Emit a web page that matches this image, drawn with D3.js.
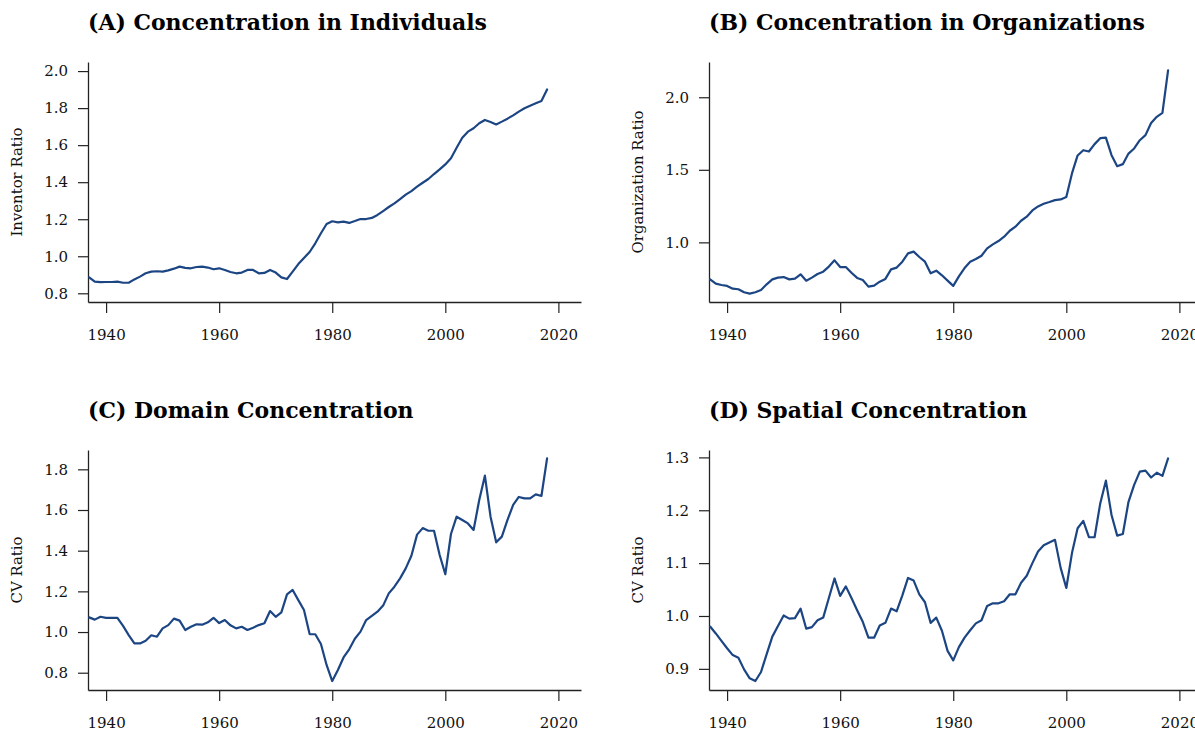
<!DOCTYPE html>
<html>
<head>
<meta charset="utf-8">
<script src="https://cdn.jsdelivr.net/npm/d3@7"></script>
<style>
  body { margin: 0; background: #fff; }
  svg { display: block; }
  .tick text { font-family: "DejaVu Serif", serif; }
</style>
</head>
<body>
<svg id="chart" width="1195" height="731"></svg>
<script>
// Yearly observations, 1937–2018
const years = d3.range(1937, 2019);

const inventorRatio = [
  0.886, 0.863, 0.860, 0.861, 0.861, 0.863, 0.857, 0.857, 0.875, 0.890,
  0.908, 0.917, 0.919, 0.917, 0.924, 0.933, 0.944, 0.937, 0.935, 0.942,
  0.944, 0.939, 0.930, 0.935, 0.926, 0.915, 0.908, 0.912, 0.926, 0.926,
  0.908, 0.910, 0.926, 0.912, 0.886, 0.877, 0.917, 0.958, 0.991, 1.023,
  1.070, 1.124, 1.174, 1.189, 1.183, 1.187, 1.180, 1.190, 1.201, 1.201,
  1.207, 1.223, 1.244, 1.266, 1.286, 1.309, 1.333, 1.352, 1.376, 1.397,
  1.417, 1.444, 1.469, 1.496, 1.529, 1.586, 1.640, 1.673, 1.691, 1.718,
  1.736, 1.725, 1.712, 1.727, 1.743, 1.761, 1.781, 1.799, 1.813, 1.826,
  1.838, 1.901
];

const organizationRatio = [
  0.745, 0.716, 0.706, 0.700, 0.681, 0.677, 0.656, 0.647, 0.656, 0.672,
  0.711, 0.745, 0.757, 0.761, 0.745, 0.750, 0.780, 0.736, 0.757, 0.782,
  0.798, 0.833, 0.876, 0.830, 0.830, 0.791, 0.755, 0.741, 0.695, 0.702,
  0.729, 0.748, 0.814, 0.826, 0.867, 0.924, 0.936, 0.899, 0.867, 0.787,
  0.805, 0.773, 0.736, 0.700, 0.766, 0.823, 0.867, 0.885, 0.908, 0.959,
  0.986, 1.009, 1.039, 1.080, 1.108, 1.149, 1.177, 1.220, 1.248, 1.266,
  1.278, 1.291, 1.296, 1.312, 1.475, 1.599, 1.635, 1.626, 1.677, 1.718,
  1.722, 1.601, 1.525, 1.539, 1.612, 1.647, 1.704, 1.739, 1.823, 1.865,
  1.892, 2.186
];

const domainCV = [
  1.072, 1.061, 1.075, 1.070, 1.070, 1.070, 1.030, 0.985, 0.944, 0.944,
  0.957, 0.984, 0.977, 1.018, 1.034, 1.066, 1.056, 1.010, 1.026, 1.038,
  1.036, 1.048, 1.070, 1.044, 1.059, 1.033, 1.018, 1.026, 1.010, 1.021,
  1.034, 1.043, 1.103, 1.075, 1.097, 1.185, 1.207, 1.157, 1.108, 0.990,
  0.989, 0.941, 0.838, 0.759, 0.813, 0.875, 0.915, 0.967, 1.002, 1.059,
  1.079, 1.100, 1.130, 1.190, 1.223, 1.264, 1.313, 1.375, 1.479, 1.511,
  1.498, 1.498, 1.379, 1.284, 1.482, 1.567, 1.551, 1.534, 1.502, 1.649,
  1.769, 1.567, 1.441, 1.469, 1.551, 1.625, 1.664, 1.657, 1.657, 1.677,
  1.669, 1.854
];

const spatialCV = [
  0.980, 0.967, 0.953, 0.939, 0.926, 0.921, 0.899, 0.882, 0.877, 0.894,
  0.928, 0.961, 0.981, 1.001, 0.995, 0.996, 1.014, 0.976, 0.979, 0.992,
  0.997, 1.034, 1.071, 1.038, 1.056, 1.034, 1.011, 0.989, 0.959, 0.959,
  0.982, 0.987, 1.014, 1.009, 1.039, 1.072, 1.067, 1.041, 1.026, 0.987,
  0.997, 0.972, 0.934, 0.916, 0.941, 0.959, 0.973, 0.986, 0.992, 1.019,
  1.024, 1.024, 1.028, 1.041, 1.041, 1.063, 1.076, 1.100, 1.122, 1.134,
  1.139, 1.144, 1.091, 1.053, 1.119, 1.166, 1.180, 1.149, 1.149, 1.213,
  1.256, 1.191, 1.152, 1.155, 1.216, 1.248, 1.273, 1.275, 1.262, 1.271,
  1.265, 1.298
];

const titles = [
  "(A) Concentration in Individuals",
  "(B) Concentration in Organizations",
  "(C) Domain Concentration",
  "(D) Spatial Concentration"
];
const yLabels = ["Inventor Ratio", "Organization Ratio", "CV Ratio", "CV Ratio"];
const xTicks = [1940, 1960, 1980, 2000, 2020];
const yTicksA = [0.8, 1.0, 1.2, 1.4, 1.6, 1.8, 2.0];
const yTicksB = [1.0, 1.5, 2.0];
const yTicksC = [0.8, 1.0, 1.2, 1.4, 1.6, 1.8];
const yTicksD = [0.9, 1.0, 1.1, 1.2, 1.3];

// Panel geometry and axis extents
const lineColor = "#1c4584";
const axisColor = "#222";
const serif = "'DejaVu Serif', serif";

const panels = [
  { values: inventorRatio,     yTicks: yTicksA, yDomain: [0.753, 2.049], left: 88,  top: 62,  bottom: 302, titleY: 30 },
  { values: organizationRatio, yTicks: yTicksB, yDomain: [0.589, 2.243], left: 709, top: 62,  bottom: 302, titleY: 30 },
  { values: domainCV,          yTicks: yTicksC, yDomain: [0.715, 1.895], left: 88,  top: 450, bottom: 690, titleY: 418 },
  { values: spatialCV,         yTicks: yTicksD, yDomain: [0.860, 1.314], left: 709, top: 450, bottom: 690, titleY: 418 }
];
const plotWidth = 493;
const xDomain = [1936.8, 2024.0];

const svg = d3.select("#chart");

// Fit the shared title size so the first title spans its intended width
const probe = svg.append("text")
  .attr("font-family", serif).attr("font-weight", "bold").attr("font-size", 24)
  .text(titles[0]);
const titleSize = 24 * 399 / probe.node().getComputedTextLength();
probe.remove();

const probe2 = svg.append("text")
  .attr("font-family", serif).attr("font-size", 16)
  .text(yLabels[1]);
const labelSize = 16 * 143 / probe2.node().getComputedTextLength();
probe2.remove();

panels.forEach((p, i) => {
  const x = d3.scaleLinear().domain(xDomain).range([p.left, p.left + plotWidth]);
  const y = d3.scaleLinear().domain(p.yDomain).range([p.bottom, p.top]);

  const g = svg.append("g");

  // Title
  g.append("text")
    .attr("x", p.left)
    .attr("y", p.titleY)
    .attr("font-family", serif)
    .attr("font-weight", "bold")
    .attr("font-size", titleSize)
    .attr("fill", "#000")
    .text(titles[i]);

  // X axis
  const xAxis = g.append("g")
    .attr("transform", `translate(0,${p.bottom})`)
    .call(d3.axisBottom(x).tickValues(xTicks).tickFormat(d3.format("d"))
      .tickSize(11).tickSizeOuter(0).tickPadding(16));
  xAxis.select(".domain").attr("stroke", axisColor).attr("stroke-width", 1.3);
  xAxis.selectAll(".tick line").attr("stroke", axisColor).attr("stroke-width", 1.2);
  xAxis.selectAll(".tick text")
    .attr("font-size", 15).attr("fill", "#111");

  // Y axis
  const yAxis = g.append("g")
    .attr("transform", `translate(${p.left},0)`)
    .call(d3.axisLeft(y).tickValues(p.yTicks).tickFormat(d3.format(".1f"))
      .tickSize(10).tickSizeOuter(0).tickPadding(10));
  yAxis.select(".domain").attr("stroke", axisColor).attr("stroke-width", 1.3);
  yAxis.selectAll(".tick line").attr("stroke", axisColor).attr("stroke-width", 1.2);
  yAxis.selectAll(".tick text")
    .attr("font-size", 15).attr("fill", "#111");

  // Y axis title
  g.append("text")
    .attr("transform", `translate(${p.left - 71},${(p.top + p.bottom) / 2}) rotate(-90)`)
    .attr("text-anchor", "middle")
    .attr("dominant-baseline", "central")
    .attr("font-family", serif)
    .attr("font-size", labelSize)
    .attr("fill", "#111")
    .text(yLabels[i]);

  // Series line
  const line = d3.line()
    .x((d, k) => x(years[k]))
    .y(d => y(d));
  g.append("path")
    .datum(p.values)
    .attr("d", line)
    .attr("fill", "none")
    .attr("stroke", lineColor)
    .attr("stroke-width", 2.2)
    .attr("stroke-linejoin", "round")
    .attr("stroke-linecap", "round");
});
</script>
</body>
</html>
